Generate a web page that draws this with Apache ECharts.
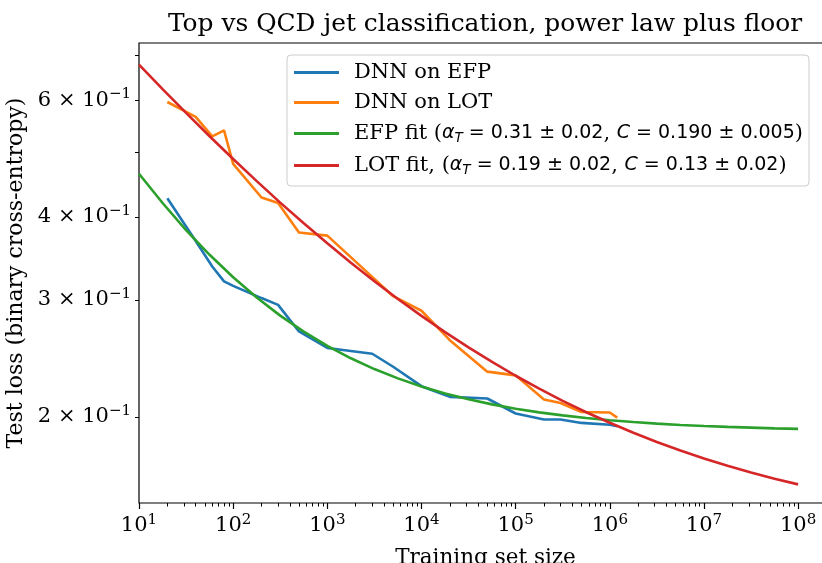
<!DOCTYPE html>
<html><head><meta charset="utf-8">
<script src="https://cdn.jsdelivr.net/npm/echarts@6/dist/echarts.min.js"></script>
<style>html,body{margin:0;padding:0;background:#fff}#c{width:822px;height:563px}</style>
</head><body><div id="c"></div>
<script>
// ---- data ----
const trainSizes = [20, 40, 60, 80, 100, 200, 300, 500, 1000, 3000, 5000, 1e4, 2e4, 5e4, 1e5, 2e5, 3e5, 5e5, 1e6, 1.2e6];
const dnnEfp = [0.427, 0.368, 0.337, 0.320, 0.315, 0.302, 0.295, 0.269, 0.254, 0.249, 0.238, 0.2225, 0.2144, 0.2132, 0.2024, 0.1982, 0.1982, 0.1959, 0.1947, 0.1936];
const dnnLot = [0.596, 0.566, 0.529, 0.540, 0.481, 0.428, 0.420, 0.379, 0.375, 0.325, 0.304, 0.289, 0.261, 0.234, 0.231, 0.2124, 0.2099, 0.2035, 0.2031, 0.1995];
const fitSizes = [1e1, 1.78e1, 3.16e1, 5.62e1, 1e2, 1.78e2, 3.16e2, 5.62e2, 1e3, 1.78e3, 3.16e3, 5.62e3, 1e4, 1.78e4, 3.16e4, 5.62e4,
                  1e5, 1.78e5, 3.16e5, 5.62e5, 1e6, 1.78e6, 3.16e6, 5.62e6, 1e7, 1.78e7, 3.16e7, 5.62e7, 1e8];
const efpFit = [0.4648, 0.4199, 0.3823, 0.3509, 0.3246, 0.3026, 0.2842, 0.2688, 0.2559, 0.2451, 0.2361, 0.2286, 0.2223, 0.2170, 0.2126, 0.2089,
                0.2058, 0.2032, 0.2011, 0.1993, 0.1977, 0.1965, 0.1954, 0.1945, 0.1938, 0.1932, 0.1927, 0.1922, 0.1919];
const lotFit = [0.6785, 0.6234, 0.5739, 0.5292, 0.4891, 0.4530, 0.4205, 0.3914, 0.3651, 0.3414, 0.3202, 0.3011, 0.2839, 0.2684, 0.2545, 0.2420,
                0.2307, 0.2206, 0.2115, 0.2033, 0.1960, 0.1893, 0.1834, 0.1780, 0.1732, 0.1688, 0.1649, 0.1614, 0.1583];
const xTickExponents = [1, 2, 3, 4, 5, 6, 7, 8];
const yTickMantissas = [2, 3, 4, 6];
const yMinorMantissas = [2, 3, 4, 5, 6, 7];
const seriesNames = ['DNN on EFP', 'DNN on LOT', 'EFP fit', 'LOT fit'];
const colors = ['#1f77b4', '#ff7f0e', '#2ca02c', '#d62728'];

const SERIF = "'DejaVu Serif', serif";
const SANS = "'DejaVu Sans', sans-serif";
const L = Math.log10;

const xMin = 1, xMax = 8.36;
const yMin = L(0.1484), yMax = L(0.7313);

const xMinor = [];
for (let d = 1; d <= 8; d++) for (let k = 2; k <= 9; k++) { const v = L(k) + d; if (v < xMax) xMinor.push(v); }

const legendText = {
  'DNN on EFP': '{sp|}{t|DNN on EFP}',
  'DNN on LOT': '{sp|}{t|DNN on LOT}',
  'EFP fit': '{sp|}{t|EFP fit (}{m|α}{sub|T}{n| = 0.31 ± 0.02}{t|, }{m|C}{n| = 0.190 ± 0.005}{t|)}',
  'LOT fit': '{sp|}{t|LOT fit, (}{m|α}{sub|T}{n| = 0.19 ± 0.02}{t|, }{m|C}{n| = 0.13 ± 0.02}{t|)}'
};

const chart = echarts.init(document.getElementById('c'), null, {renderer: 'canvas'});
const pts = (xs, ys) => xs.map((x, i) => [L(x), L(ys[i])]);
const FS = 21, FM = 19;

chart.setOption({
  animation: false,
  backgroundColor: '#fff',
  grid: {left: 139, top: 43, width: 693, height: 460, outerBoundsMode: 'none', containLabel: false,
         show: true, borderColor: '#000', borderWidth: 1.2, backgroundColor: 'transparent'},
  graphic: [{
    type: 'text', x: 485, y: 25,
    style: {text: 'Top vs QCD jet classification, power law plus floor', font: "24.9px 'DejaVu Serif', serif", fill: '#000', align: 'center', verticalAlign: 'middle'}
  }],
  legend: {
    orient: 'vertical', left: 287, top: 55,
    data: seriesNames.map((n, i) => ({name: n, icon: 'rect', itemStyle: {color: colors[i]}})),
    itemWidth: 45, itemHeight: 3, itemGap: 9,
    padding: [7, 6, 9, 7],
    backgroundColor: 'rgba(255,255,255,0.8)', borderColor: '#cccccc', borderWidth: 1, borderRadius: 4,
    formatter: n => legendText[n],
    textStyle: {
      rich: {
        sp: {width: 10, lineHeight: 22},
        t: {fontFamily: SERIF, fontSize: FS, color: '#000', lineHeight: 22},
        m: {fontFamily: SANS, fontStyle: 'italic', fontSize: FM, color: '#000', lineHeight: 22},
        sub: {fontFamily: SANS, fontStyle: 'italic', fontSize: 13.5, color: '#000', lineHeight: 22, padding: [9, 0, 0, 0]},
        n: {fontFamily: SANS, fontSize: FM, color: '#000', lineHeight: 22}
      }
    }
  },
  xAxis: [{
    type: 'value', min: xMin, max: xMax, position: 'bottom',
    name: 'Training set size', nameLocation: 'middle', nameGap: 44,
    nameTextStyle: {fontFamily: SERIF, fontSize: 21.5, color: '#000'},
    axisLine: {show: false}, splitLine: {show: false},
    axisTick: {show: true, length: 6, lineStyle: {color: '#000', width: 1.2}, customValues: xTickExponents},
    axisLabel: {
      show: true, margin: 10, customValues: xTickExponents,
      formatter: v => '{b|10}{s|' + Math.round(v) + '}',
      rich: {
        b: {fontFamily: SERIF, fontSize: FS, color: '#000'},
        s: {fontFamily: SERIF, fontSize: 15, color: '#000', padding: [0, 0, 11, 0]}
      }
    }
  }, {
    type: 'value', min: xMin, max: xMax, position: 'bottom', gridIndex: 0,
    axisLine: {show: false}, splitLine: {show: false}, axisLabel: {show: false},
    axisTick: {show: true, length: 3.5, lineStyle: {color: '#000', width: 1}, customValues: xMinor}
  }],
  yAxis: [{
    type: 'value', min: yMin, max: yMax,
    name: 'Test loss (binary cross-entropy)', nameLocation: 'middle', nameGap: 105,
    nameTextStyle: {fontFamily: SERIF, fontSize: 22, color: '#000'},
    axisLine: {show: false}, splitLine: {show: false},
    axisTick: {show: true, length: 4, lineStyle: {color: '#000', width: 1}, customValues: yMinorMantissas.map(m => L(m / 10))},
    axisLabel: {
      show: true, margin: 8, customValues: yTickMantissas.map(m => L(m / 10)),
      formatter: v => '{b|' + Math.round(Math.pow(10, v) * 10) + ' × 10}{s|−1}',
      rich: {
        b: {fontFamily: SERIF, fontSize: FS, color: '#000'},
        s: {fontFamily: SERIF, fontSize: 15, color: '#000', padding: [0, 0, 11, 0]}
      }
    }
  }],
  series: [
    {name: seriesNames[0], type: 'line', data: pts(trainSizes, dnnEfp), showSymbol: false, symbol: 'none', lineStyle: {width: 2.6, color: colors[0]}, itemStyle: {color: colors[0]}},
    {name: seriesNames[1], type: 'line', data: pts(trainSizes, dnnLot), showSymbol: false, symbol: 'none', lineStyle: {width: 2.6, color: colors[1]}, itemStyle: {color: colors[1]}},
    {name: seriesNames[2], type: 'line', data: pts(fitSizes, efpFit), showSymbol: false, symbol: 'none', lineStyle: {width: 2.6, color: colors[2]}, itemStyle: {color: colors[2]}},
    {name: seriesNames[3], type: 'line', data: pts(fitSizes, lotFit), showSymbol: false, symbol: 'none', lineStyle: {width: 2.6, color: colors[3]}, itemStyle: {color: colors[3]}}
  ]
});
</script></body></html>
